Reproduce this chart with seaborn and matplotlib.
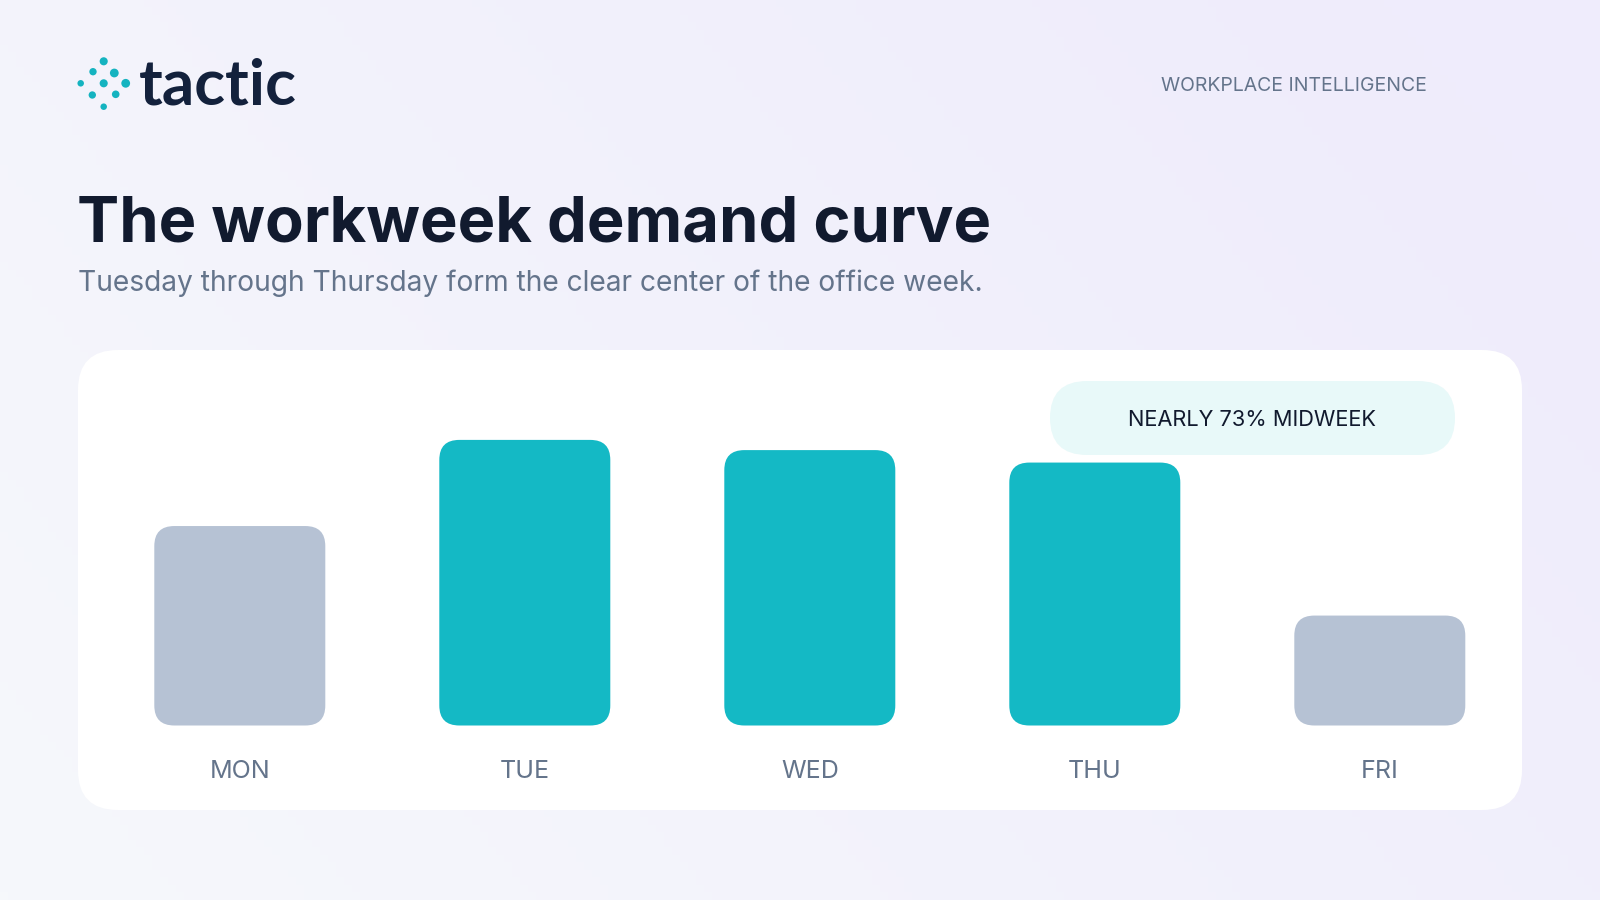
import numpy as np
import matplotlib
matplotlib.use("Agg")
import matplotlib.pyplot as plt
from matplotlib.patches import FancyBboxPatch
import seaborn as sns

# ---- data ----
days = ["MON", "TUE", "WED", "THU", "FRI"]
share = [17.6, 25.2, 24.3, 23.2, 9.7]
bar_colors = ["#b6c2d4", "#14b9c5", "#14b9c5", "#14b9c5", "#b6c2d4"]

title = "The workweek demand curve"
subtitle = "Tuesday through Thursday form the clear center of the office week."
badge = "NEARLY 73% MIDWEEK"
kicker = "WORKPLACE INTELLIGENCE"

sns.set_theme(style="white")
plt.rcParams["font.family"] = ["Inter", "DejaVu Sans"]

W, H = 1600, 900
fig = plt.figure(figsize=(16, 9), dpi=100)

# background layer in pixel coords
bg = fig.add_axes([0, 0, 1, 1], zorder=0)
bg.set_xlim(0, W)
bg.set_ylim(H, 0)
bg.axis("off")

xx, yy = np.meshgrid(np.linspace(0, 1, 200), np.linspace(0, 1, 120))
t = np.clip(0.75 * xx + 0.35 * (1 - yy), 0, 1)
c0 = np.array([0xf6, 0xf8, 0xfb]) / 255
c1 = np.array([0xef, 0xec, 0xfc]) / 255
img = c0[None, None, :] * (1 - t[..., None]) + c1[None, None, :] * t[..., None]
bg.imshow(img, extent=[0, W, H, 0], aspect="auto", zorder=0)

# white card
card = FancyBboxPatch((78, 350), 1444, 460, boxstyle="round,pad=0,rounding_size=40",
                      facecolor="white", edgecolor="none", zorder=1)
bg.add_patch(card)

# logo dots
dots_x = [103.7, 93, 114.3, 80.7, 103.7, 125.7, 92.3, 115.7, 103.7]
dots_y = [61.3, 71.7, 73, 83.3, 83.3, 83.3, 95, 94.3, 106.7]
dots_s = [34, 28, 40, 22, 34, 40, 28, 30, 22]
bg.scatter(dots_x, dots_y, s=dots_s, color="#14b3c0", zorder=3, linewidths=0)
bg.text(139, 86, "tactic", fontsize=46, fontweight="bold", color="#13213c",
        va="center", ha="left", family=["Lato", "DejaVu Sans"], zorder=3)

bg.text(1427, 86, kicker, fontsize=14, color="#64748b", ha="right", va="center", zorder=3)

bg.text(77, 241, title, fontsize=45.5, fontweight="bold", color="#111a2e",
        ha="left", va="baseline", zorder=3)
bg.text(78, 283, subtitle, fontsize=20.3, color="#64748b", ha="left", va="center", zorder=3)

# badge pill
pill = FancyBboxPatch((1050, 381), 405, 74, boxstyle="round,pad=0,rounding_size=37",
                      facecolor="#e8f9f9", edgecolor="none", zorder=2)
bg.add_patch(pill)
bg.text(1252, 420, badge, fontsize=15.7, color="#111a2e", ha="center", va="center", zorder=3)

# ---- bar chart ----
ymax = 30
left_px, width_px = 97.3, 1425
bottom_px, height_px = 725.5, 340
ax = fig.add_axes([left_px / W, (H - bottom_px) / H, width_px / W, height_px / H], zorder=2)
ax.patch.set_alpha(0)
sns.barplot(x=days, y=share, hue=days, palette=bar_colors, legend=False,
            width=0.6, saturation=1, ax=ax)
ax.set_xlim(-0.5, 4.5)
ax.set_ylim(0, ymax)

# swap plain bars for rounded ones
x_per_px = 5 / width_px
y_per_px = ymax / height_px
r_px = 20
for p in list(ax.patches):
    x0, y0 = p.get_x(), p.get_y()
    w, h = p.get_width(), p.get_height()
    fc = p.get_facecolor()
    p.set_visible(False)
    ax.add_patch(FancyBboxPatch((x0, y0), w, h,
                                boxstyle=f"round,pad=0,rounding_size={r_px * x_per_px}",
                                mutation_aspect=y_per_px / x_per_px,
                                facecolor=fc, edgecolor="none"))

for s in ax.spines.values():
    s.set_visible(False)
ax.set_yticks([])
ax.set_xlabel("")
ax.set_ylabel("")
ax.tick_params(axis="x", length=0, pad=25, labelsize=18, labelcolor="#64748b")

fig.savefig("out.png", dpi=100)
